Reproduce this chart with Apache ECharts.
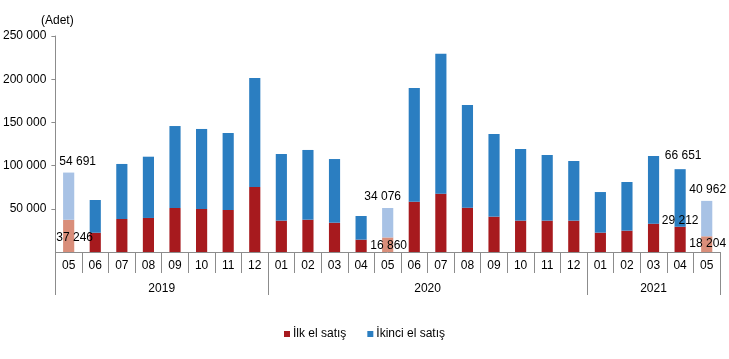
<!DOCTYPE html>
<html>
<head>
<meta charset="utf-8">
<script src="https://cdn.jsdelivr.net/npm/echarts@6/dist/echarts.min.js"></script>
<style>html,body{margin:0;padding:0;background:#fff;}#c{width:729px;height:359px;}</style>
</head>
<body>
<div id="c"></div>
<script>
var months = ['05','06','07','08','09','10','11','12','01','02','03','04','05','06','07','08','09','10','11','12','01','02','03','04','05'];
var years  = ['2019','2019','2019','2019','2019','2019','2019','2019','2020','2020','2020','2020','2020','2020','2020','2020','2020','2020','2020','2020','2021','2021','2021','2021','2021'];
var ilkEl   = [37246,22300,38200,39400,50900,49800,48600,75200,36300,37400,33900,14300,16860,58200,67500,51300,40900,36300,36300,36300,22400,24700,32800,29212,18204];
var ikinciEl= [54691,37900,63700,70900,94900,92600,89100,126200,77100,80700,73700,27400,34076,131600,162000,118800,95700,82900,76000,69000,47000,56300,78300,66651,40962];
var yTicks = [0,50000,100000,150000,200000,250000];
var seriesNames = ['İlk el satış','İkinci el satış'];
// months whose values are labelled, and months drawn in lighter colours
var labelled = [0,12,23,24];
var light = [0,12,24];

var RED='#A71A1E', BLUE='#2B7EC1', LRED='#D98E7A', LBLUE='#A8C2E5';

// year groups: boundaries and centres
var bounds=[0], centers=[], centerYears=[];
for (var i=1;i<years.length;i++){ if(years[i]!==years[i-1]) bounds.push(i); }
bounds.push(years.length);
for (var j=0;j<bounds.length-1;j++){ centers.push((bounds[j]+bounds[j+1])/2); centerYears.push(years[bounds[j]]); }

var redLabelPos = {0:{position:'inside',offset:[6,2]},12:{position:'inside',offset:[1,1]},23:{position:'top',distance:0,offset:[0,0]},24:{position:'inside',offset:[1,0]}};
var blueLabelPos = {0:{offset:[9,0]},12:{offset:[-5,0]},23:{offset:[3,-2]},24:{offset:[1,0]}};
function fmt(v){ return String(v).replace(/\B(?=(\d{3})+(?!\d))/g,' '); }

var redData = ilkEl.map(function(v,i){
  var d={value:v};
  if(light.indexOf(i)>=0) d.itemStyle={color:LRED};
  if(labelled.indexOf(i)>=0){
    var p=redLabelPos[i];
    d.label={show:true,position:p.position,distance:p.distance!==undefined?p.distance:5,offset:p.offset,formatter:function(x){return fmt(x.value);},color:'#000',fontSize:12,fontFamily:'Liberation Sans, Arial, sans-serif'};
  }
  return d;
});
var blueData = ikinciEl.map(function(v,i){
  var d={value:v};
  if(light.indexOf(i)>=0) d.itemStyle={color:LBLUE};
  if(labelled.indexOf(i)>=0){
    var p=blueLabelPos[i];
    d.label={show:true,position:'top',distance:5,offset:p.offset,formatter:function(x){return fmt(x.value);},color:'#000',fontSize:12,fontFamily:'Liberation Sans, Arial, sans-serif'};
  }
  return d;
});

var font='Liberation Sans, Arial, sans-serif';
var axisColor='#8C8C8C';
var chart = echarts.init(document.getElementById('c'),null,{renderer:'canvas'});
chart.setOption({
  animation:false,
  backgroundColor:'#fff',
  textStyle:{fontFamily:font},
  title:{text:'(Adet)',left:36,top:10,textStyle:{fontSize:12,fontWeight:'normal',color:'#000',fontFamily:font}},
  grid:{left:54,right:9,top:36,bottom:107,containLabel:false},
  legend:{
    data:seriesNames,bottom:14,left:'center',icon:'rect',itemWidth:6,itemHeight:6,itemGap:21,
    textStyle:{fontSize:12,color:'#000',fontFamily:font,padding:[0,0,0,-2]}
  },
  xAxis:[
    {type:'category',data:months,position:'bottom',
     axisLine:{show:true,lineStyle:{color:axisColor}},
     axisTick:{show:true,length:21,interval:0,lineStyle:{color:axisColor}},
     axisLabel:{interval:0,color:'#000',fontSize:12,margin:8,fontFamily:font}},
    {type:'value',min:0,max:years.length,position:'bottom',
     axisLine:{show:false},splitLine:{show:false},
     axisTick:{show:true,length:43,customValues:bounds,lineStyle:{color:axisColor}},
     axisLabel:{show:true,customValues:centers,margin:31,color:'#000',fontSize:12,fontFamily:font,
       formatter:function(v){var k=centers.indexOf(v);return k>=0?centerYears[k]:'';}}}
  ],
  yAxis:{type:'value',min:yTicks[0],max:yTicks[yTicks.length-1],interval:yTicks[1]-yTicks[0],
    axisLine:{show:true,lineStyle:{color:axisColor}},
    axisTick:{show:true,length:4,lineStyle:{color:axisColor}},
    splitLine:{show:false},
    axisLabel:{color:'#000',fontSize:12,margin:9,fontFamily:font,showMinLabel:false,formatter:function(v){return fmt(v);}}},
  series:[
    {name:seriesNames[0],type:'bar',stack:'s',xAxisIndex:0,data:redData,barCategoryGap:'58%',itemStyle:{color:RED}},
    {name:seriesNames[1],type:'bar',stack:'s',xAxisIndex:0,data:blueData,barCategoryGap:'58%',itemStyle:{color:BLUE}}
  ]
});
</script>
</body>
</html>
